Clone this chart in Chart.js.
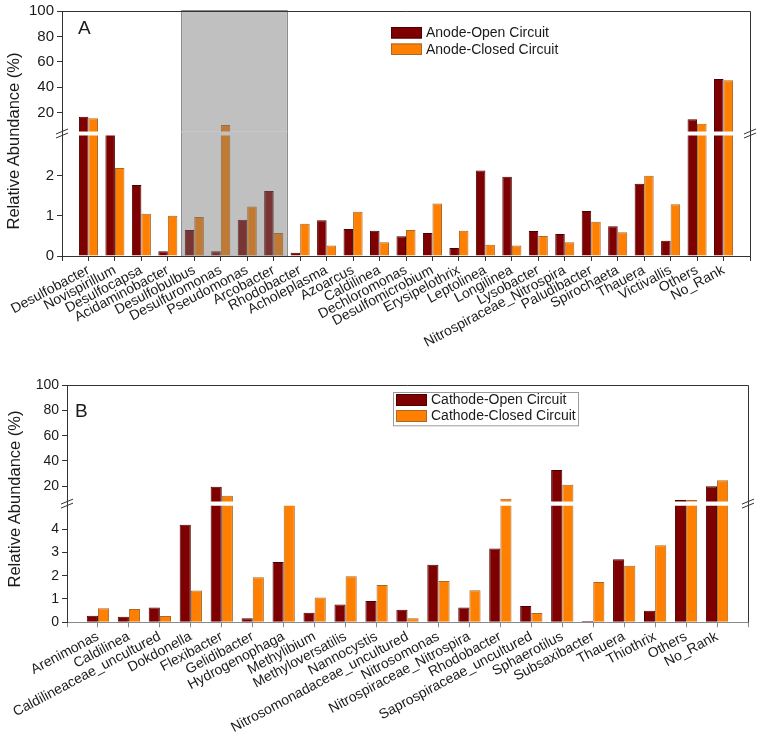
<!DOCTYPE html>
<html>
<head>
<meta charset="utf-8">
<script src="https://cdn.jsdelivr.net/npm/chart.js@4.4.1/dist/chart.umd.min.js"></script>
<style>
body { margin: 0; background: #fff; width: 760px; height: 748px; position: relative; overflow: hidden; font-family: "Liberation Sans", Arial, sans-serif; }
canvas { position: absolute; left: 0; }
.ytitle { position: absolute; font-size: 16.5px; color: #1a1a1a; white-space: nowrap; transform: translate(-50%, -50%) rotate(-90deg); }
</style>
</head>
<body>
<canvas id="aTop" width="760" height="132" style="top:0px"></canvas>
<canvas id="aBot" width="760" height="246" style="top:126px"></canvas>
<canvas id="bTop" width="760" height="130" style="top:372px"></canvas>
<canvas id="bBot" width="760" height="252" style="top:496px"></canvas>
<div class="ytitle" style="left:13px;top:141px">Relative Abundance (%)</div>
<div class="ytitle" style="left:14px;top:499px">Relative Abundance (%)</div>
<script>
// panel A - anode
const catA = ['Desulfobacter', 'Novispirillum', 'Desulfocapsa', 'Acidaminobacter', 'Desulfobulbus',
  'Desulfuromonas', 'Pseudomonas', 'Arcobacter', 'Rhodobacter', 'Acholeplasma', 'Azoarcus', 'Caldilinea',
  'Dechloromonas', 'Desulfomicrobium', 'Erysipelothrix', 'Leptolinea', 'Longilinea', 'Lysobacter',
  'Nitrospiraceae_Nitrospira', 'Paludibacter', 'Spirochaeta', 'Thauera', 'Victivallis', 'Others', 'No_Rank'];
const openA = [16.7, 3.2, 1.77, 0.12, 0.65, 0.12, 0.9, 1.62, 0.08, 0.89, 0.67, 0.63,
  0.49, 0.57, 0.2, 2.13, 1.97, 0.62, 0.55, 1.12, 0.74, 1.8, 0.38, 14.6, 46.4];
const closedA = [15.4, 2.19, 1.05, 1.0, 0.97, 10.1, 1.23, 0.57, 0.8, 0.26, 1.1, 0.34,
  0.65, 1.31, 0.63, 0.28, 0.26, 0.5, 0.34, 0.85, 0.59, 2.0, 1.29, 11.2, 45.4];
const namesA = ['Anode-Open Circuit', 'Anode-Closed Circuit'];
const shadedA = ['Desulfobulbus', 'Arcobacter'];
const ticksAUpper = [20, 40, 60, 80, 100];
const ticksALower = [0, 1, 2];

// panel B - cathode
const catB = ['Arenimonas', 'Caldilinea', 'Caldilineaceae_uncultured', 'Dokdonella', 'Flexibacter',
  'Gelidibacter', 'Hydrogenophaga', 'Methylibium', 'Methyloversatilis', 'Nannocystis',
  'Nitrosomonadaceae_uncultured', 'Nitrosomonas', 'Nitrospiraceae_Nitrospira', 'Rhodobacter',
  'Saprospiraceae_uncultured', 'Sphaerotilus', 'Subsaxibacter', 'Thauera', 'Thiothrix', 'Others', 'No_Rank'];
const openB = [0.28, 0.24, 0.64, 4.18, 19.7, 0.17, 2.59, 0.41, 0.76, 0.91, 0.54, 2.47, 0.63, 3.16,
  0.7, 32.9, 0.06, 2.7, 0.5, 9.2, 20.0];
const closedB = [0.6, 0.57, 0.27, 1.36, 12.6, 1.93, 6.5, 1.06, 1.97, 1.6, 0.17, 1.77, 1.37, 10.2,
  0.4, 21.3, 1.73, 2.43, 3.3, 9.2, 24.7];
const namesB = ['Cathode-Open Circuit', 'Cathode-Closed Circuit'];
const ticksBUpper = [20, 40, 60, 80, 100];
const ticksBLower = [0, 1, 2, 3, 4];

const OPEN = '#7f0000', OPEN_EDGE = '#4a0000';
const CLOSED = '#ff8000', CLOSED_EDGE = '#a8682a';
const INK = '#1a1a1a', AXIS = '#333';
const FONT = '"Liberation Sans", Arial, sans-serif';

const crisp = v => Math.round(v) + 0.5;

// frame, axis break, shaded box, legend and panel letter
const deco = {
  id: 'deco',
  afterDatasetsDraw(chart, args, o) {
    const { ctx, chartArea: a } = chart;
    const x = chart.scales.x, labels = chart.data.labels;
    ctx.save();
    ctx.lineWidth = 1;
    if (o.shade) {
      const i0 = labels.indexOf(o.shade[0]), i1 = labels.indexOf(o.shade[1]);
      const left = (x.getPixelForValue(i0 - 1) + x.getPixelForValue(i0)) / 2;
      const right = (x.getPixelForValue(i1) + x.getPixelForValue(i1 + 1)) / 2;
      const top = o.shadeTop !== undefined ? o.shadeTop : o.gapTop;
      ctx.fillStyle = 'rgba(116,116,116,0.45)';
      ctx.fillRect(left, top, right - left, a.bottom - top);
      ctx.strokeStyle = '#8c8c8c';
      ctx.beginPath();
      ctx.moveTo(crisp(left), a.bottom);
      ctx.lineTo(crisp(left), crisp(top));
      if (o.shadeTop !== undefined) ctx.lineTo(crisp(right), crisp(top));
      else ctx.moveTo(crisp(right), top);
      ctx.lineTo(crisp(right), a.bottom);
      ctx.stroke();
    }
    ctx.strokeStyle = AXIS;
    ctx.beginPath();
    if (o.top) {
      ctx.moveTo(a.left, crisp(a.top));
      ctx.lineTo(crisp(a.right), crisp(a.top));
      ctx.lineTo(crisp(a.right), a.bottom);
    } else {
      ctx.moveTo(crisp(a.right), o.gapTop);
      ctx.lineTo(crisp(a.right), a.bottom);
      ctx.moveTo(crisp(a.left), o.gapTop);
      ctx.lineTo(crisp(a.left), a.top);
    }
    ctx.stroke();
    if (o.breakY !== undefined) {
      ctx.beginPath();
      [a.left, a.right].forEach(cx => {
        [-2, 2].forEach(d => {
          ctx.moveTo(cx - 6, o.breakY + d + 2.5);
          ctx.lineTo(cx + 6, o.breakY + d - 2.5);
        });
      });
      ctx.stroke();
    }
    if (o.legend) {
      const L = o.legend;
      if (L.frame) {
        ctx.strokeStyle = '#9a9a9a';
        ctx.strokeRect(crisp(L.frame[0]), crisp(L.frame[1]), L.frame[2], L.frame[3]);
      }
      ctx.font = '14px ' + FONT;
      ctx.textBaseline = 'middle';
      chart.data.datasets.forEach((ds, i) => {
        const yy = L.y + i * L.row;
        ctx.fillStyle = ds.backgroundColor;
        ctx.fillRect(L.x, yy, L.w, L.h);
        ctx.strokeStyle = ds.borderColor;
        ctx.strokeRect(L.x + 0.5, yy + 0.5, L.w - 1, L.h - 1);
        ctx.fillStyle = INK;
        ctx.fillText(ds.label, L.x + L.w + 4, yy + L.h / 2 + 0.5);
      });
    }
    if (o.letter) {
      ctx.font = '19px ' + FONT;
      ctx.fillStyle = INK;
      ctx.textBaseline = 'alphabetic';
      ctx.fillText(o.letter.text, o.letter.x, o.letter.y);
    }
    ctx.restore();
  }
};

function padded(arr, fill) { return [fill, ...arr, fill]; }

function barChart(id, cfg) {
  const ds = (label, data, bg, edge) => ({
    label, data: padded(data, null), backgroundColor: bg, borderColor: edge, borderWidth: 1,
    categoryPercentage: 0.72, barPercentage: 1, clip: 0
  });
  return new Chart(document.getElementById(id), {
    type: 'bar',
    data: {
      labels: padded(cfg.cats, ''),
      datasets: [ds(cfg.names[0], cfg.open, OPEN, OPEN_EDGE), ds(cfg.names[1], cfg.closed, CLOSED, CLOSED_EDGE)]
    },
    options: {
      responsive: false,
      animation: false,
      events: [],
      layout: { padding: cfg.pad },
      plugins: { legend: { display: false }, tooltip: { enabled: false }, deco: cfg.deco },
      scales: {
        x: {
          display: cfg.showX,
          offset: false,
          z: 1,
          grid: { offset: false, drawOnChartArea: false, tickLength: 5, color: cfg.xAxis },
          border: { color: cfg.xAxis },
          ticks: { autoSkip: false, minRotation: 28, maxRotation: 28, padding: 1, color: INK, font: { family: FONT, size: 14 } },
          afterFit: s => {
            if (cfg.xHeight) s.height = cfg.xHeight;
            s.paddingLeft = 0;
            s.paddingRight = 0;
          }
        },
        y: {
          min: cfg.min,
          max: cfg.max,
          z: 1,
          afterBuildTicks: s => { s.ticks = cfg.ticks.map(v => ({ value: v })); },
          afterFit: s => {
            s.width = cfg.yWidth;
            // the axis is split in two charts, so no room for half labels
            s.paddingTop = 0;
            s.paddingBottom = 0;
          },
          grid: { drawOnChartArea: false, tickLength: 5, color: AXIS },
          border: { color: AXIS },
          ticks: { padding: 3, color: INK, font: { family: FONT, size: cfg.yFont } }
        }
      }
    },
    plugins: [deco]
  });
}

const baseA = { cats: catA, open: openA, closed: closedA, names: namesA, yWidth: 62, yFont: 15, xAxis: AXIS };
const baseB = { cats: catB, open: openB, closed: closedB, names: namesB, yWidth: 67, yFont: 14, xAxis: '#8a8a8a' };

barChart('aTop', Object.assign({}, baseA, {
  min: 5, max: 100, ticks: ticksAUpper, showX: false,
  pad: { top: 11, bottom: 0.5, left: 0, right: 10 },
  deco: { shade: shadedA, shadeTop: 10.3, top: true, letter: { text: 'A', x: 78, y: 34 },
    legend: { x: 391, y: 27, row: 16.5, w: 31, h: 11.5 } }
}));
barChart('aBot', Object.assign({}, baseA, {
  min: 0, max: 3, ticks: ticksALower, showX: true, xHeight: 116,
  pad: { top: 9.5, bottom: 0, left: 0, right: 10 },
  deco: { shade: shadedA, gapTop: 5.5, breakY: 7.5 }
}));
barChart('bTop', Object.assign({}, baseB, {
  min: 8, max: 100, ticks: ticksBUpper, showX: false,
  pad: { top: 13, bottom: 0.5, left: 0, right: 12 },
  deco: { top: true, letter: { text: 'B', x: 75, y: 45 },
    legend: { x: 396, y: 22, row: 16, w: 31, h: 12, frame: [393, 19.7, 185, 33.3] } }
}));
barChart('bBot', Object.assign({}, baseB, {
  min: 0, max: 5, ticks: ticksBLower, showX: true, xHeight: 125.7,
  pad: { top: 9.7, bottom: 0, left: 0, right: 12 },
  deco: { gapTop: 5.5, breakY: 7.6 }
}));
</script>
</body>
</html>
